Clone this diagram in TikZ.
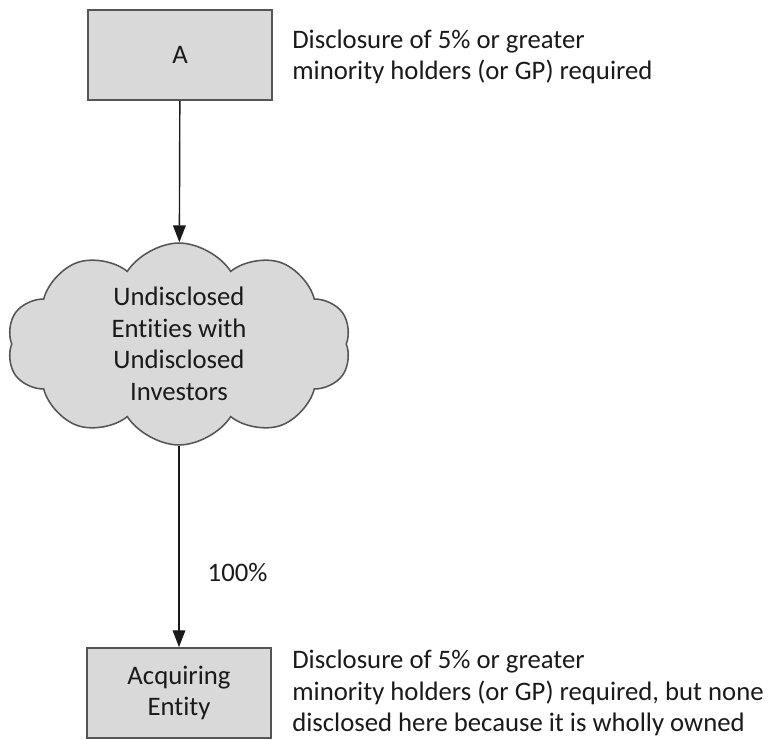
\documentclass[tikz,border=0pt]{standalone}
\usepackage{fontspec}
\setmainfont{Carlito}[Ligatures=NoCommon]
\usetikzlibrary{positioning, shapes.symbols, arrows.meta}
\definecolor{boxgray}{HTML}{D9D9D9}
\definecolor{edgegray}{HTML}{555555}
\definecolor{inkgray}{HTML}{1A1A1A}

\begin{document}
\begin{tikzpicture}[x=0.025cm, y=-0.025cm,
    font=\fontsize{19}{22.5}\selectfont, text=inkgray,
    holder/.style={draw=edgegray, line width=1.2pt, fill=boxgray,
      minimum width=4.6cm, minimum height=2.25cm, align=center},
    blob/.style={cloud, cloud puffs=10, cloud puff arc=115, aspect=1.8,
      draw=edgegray, line width=1.1pt, fill=boxgray,
      minimum width=8.6cm, minimum height=4.9cm, inner sep=0pt, align=center},
    note/.style={anchor=west, align=left, inner sep=0pt},
    own/.style={-{Triangle[length=12pt, width=9pt]}, line width=1pt, draw=inkgray}]
  \useasboundingbox (0,0) rectangle (775,740);
  \node[holder] (a) at (180,55) {A};
  \node[blob] (undisclosed) at (179,344)
    {Undisclosed\\Entities with\\Undisclosed\\Investors};
  \node[holder] (acquiring) at (179,693) {Acquiring\\Entity};
  \node[note] (note a) at (292,57)
    {Disclosure of 5\% or greater\\minority holders (or GP) required};
  \node[note] (note acquiring) at (292,693)
    {Disclosure of 5\% or greater\\minority holders (or GP) required, but none\\disclosed here because it is wholly owned};
  \draw[own] (a) -- (undisclosed);
  \draw[own] (undisclosed) -- node[pos=0.63, right=0.7cm, inner sep=0pt] (pct) {100\%} (acquiring);
\end{tikzpicture}
\end{document}
